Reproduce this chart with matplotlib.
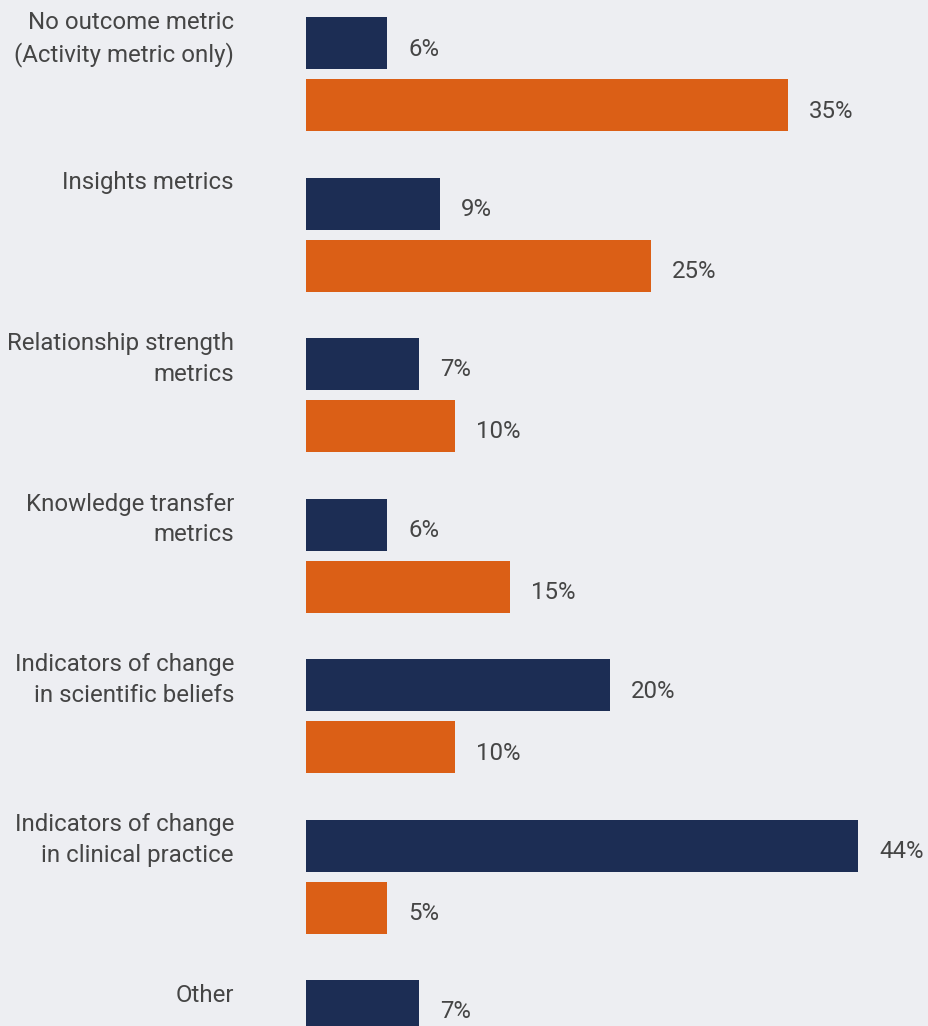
import numpy as np
import matplotlib.pyplot as plt

plt.rcParams['font.family'] = ['Roboto', 'DejaVu Sans']

# ---------- datos ----------
categorias = ["No outcome metric\n(Activity metric only)",
              "Insights metrics",
              "Relationship strength\nmetrics",
              "Knowledge transfer\nmetrics",
              "Indicators of change\nin scientific beliefs",
              "Indicators of change\nin clinical practice",
              "Other"]
# largo de las barras (estimado del dibujo) y etiqueta impresa
azul_val = [5.9, 9.7, 8.2, 5.9, 22.0, 40.0, 8.2]
azul_txt = ["6%", "9%", "7%", "6%", "20%", "44%", "7%"]
naranja_val = [34.9, 25.0, 10.8, 14.8, 10.8, 5.9]
naranja_txt = ["35%", "25%", "10%", "15%", "10%", "5%"]

AZUL = "#1C2D54"
NARANJA = "#DB5F16"
FONDO = "#EDEEF2"
TEXTO = "#454545"

W, H = 929, 1026
x0 = 306          # donde empiezan las barras (px)
esc = 13.8        # px por punto porcentual
fs = 17.3

fig = plt.figure(figsize=[W/100, H/100], dpi=100, facecolor=FONDO)
ax = fig.add_axes([x0/W, 0, 1 - x0/W, 1])
ax.set_facecolor(FONDO)
ax.set_xlim(0, (W - x0)/esc)
ax.set_ylim(H, 0)
ax.axis("off")

paso = 160.5
alto = 52
y_azul = [43 + paso*i for i in range(len(categorias))]
y_naranja = [y + 62 for y in y_azul[:len(naranja_val)]]

ax.barh(y_azul, azul_val, height=alto, color=AZUL)
ax.barh(y_naranja, naranja_val, height=alto, color=NARANJA)

for y, v, t in zip(y_azul, azul_val, azul_txt):
    ax.text(v + 21/esc, y + 6, t, ha="left", va="center", fontsize=fs, color=TEXTO)
for y, v, t in zip(y_naranja, naranja_val, naranja_txt):
    ax.text(v + 21/esc, y + 6, t, ha="left", va="center", fontsize=fs, color=TEXTO)

# etiquetas de categoría (alineadas arriba, a la izquierda de las barras)
for i, (y, c) in enumerate(zip(y_azul, categorias)):
    yy = y - 32 if i < len(categorias) - 1 else y - 22
    ax.text(-72/esc, yy, c, ha="right", va="top", fontsize=fs, color=TEXTO,
            linespacing=1.42, clip_on=False)

fig.savefig("out.png", dpi=100, facecolor=FONDO)
